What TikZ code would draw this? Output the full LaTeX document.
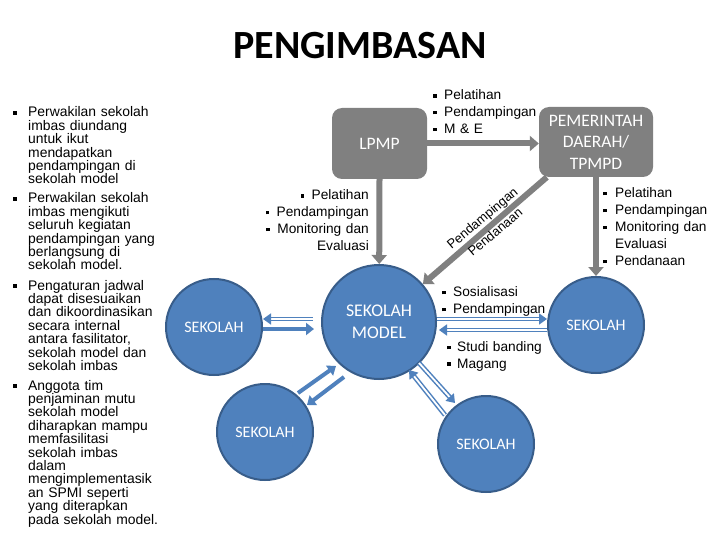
\documentclass[tikz,border=0pt]{standalone}
\usepackage{fontspec}
\setmainfont{Liberation Sans}
\newfontfamily\calfont{Carlito}
\usetikzlibrary{arrows.meta,calc}
\definecolor{gbox}{RGB}{128,128,128}
\definecolor{bfill}{RGB}{79,129,189}
\definecolor{bdraw}{RGB}{56,93,138}
\definecolor{barrowc}{RGB}{79,129,189}
\newcommand{\sqb}{\rule[2.2pt]{3.4pt}{3.4pt}}
\newcommand{\bl}[1]{\makebox[#1][l]{\sqb}}
\newcommand{\ind}{\hspace*{15pt}}
\begin{document}
\begin{tikzpicture}[x=1pt,y=-1pt,
  lbl/.style={font=\fontsize{13.7}{16.7}\selectfont, inner sep=0pt, text width=115pt, align=left, anchor=base west},
  colitem/.style={font=\fontsize{13.9}{13.4}\selectfont, inner sep=0pt, text width=160pt, align=left, anchor=base west},
  gbx/.style={rectangle, rounded corners=10pt, fill=gbox, text=white, align=center, inner sep=0pt, font=\calfont\fontsize{17.5}{21.5}\selectfont},
  sch/.style={circle, fill=bfill, draw=bdraw, line width=2pt, text=white, align=center, inner sep=0pt, minimum size=96pt, font=\calfont\fontsize{16}{20}\selectfont},
  garrow/.style={draw=gbox, line width=6pt, -{Triangle[length=9pt,width=15pt]}},
  bsolid/.style={draw=barrowc, line width=4pt, -{Triangle[length=8pt,width=12pt]}},
  bdouble/.style={draw=barrowc, line width=1.5pt, double=white, double distance=1.8pt, -{Triangle[length=8pt,width=11pt]}}
]
\useasboundingbox (0,0) rectangle (720,540);
\fill[white] (0,0) rectangle (720,540);

% title
\node[font=\calfont\bfseries\fontsize{40}{40}\selectfont, inner sep=0pt] (title) at (360,46) {PENGIMBASAN};

% boxes
\node[gbx, minimum width=95pt, minimum height=71pt] (lp) at (379.5,143.5) {LPMP};
\node[gbx, minimum width=114pt, minimum height=70pt] (pm) at (596,142) {PEMERINTAH\\DAERAH/\\TPMPD};

% circles
\node[sch, minimum size=114pt, font=\calfont\fontsize{17.8}{22}\selectfont] (sm) at (379,322) {SEKOLAH\\MODEL};
\node[sch] (sl) at (214,327) {SEKOLAH};
\node[sch] (sbl) at (265,432) {SEKOLAH};
\node[sch] (sr) at (596,325) {SEKOLAH};
\node[sch] (sbr) at (486,444) {SEKOLAH};

% gray arrows
\draw[garrow] (lp.east) -- (lp.east -| pm.west);
\draw[garrow] (lp.south) -- (sm);
\draw[garrow] (pm.south) -- (sr);
\coordinate (pmc) at ($(pm.south west)+(8,0)$);
\draw[garrow] (pmc) -- (sm);

% blue arrows
\draw[bdouble] ($(sm.west)+(-8,-3)$) -- ($(sl.east)+(0,-8)$);
\draw[bsolid] ($(sl.east)+(0,2)$) -- ($(sm.west)+(-7,7)$);
\draw[bdouble] ($(sm.east)+(0,-3)$) -- ($(sr.west)+(0,-6)$);
\draw[bdouble] ($(sr.west)+(0,5)$) -- ($(sm.east)+(2,8)$);
\draw[bsolid] ($(sbl)+(33,-39)$) -- ($(sm)+(-43,44)$);
\draw[bsolid] ($(sm)+(-35,55)$) -- ($(sbl)+(42,-27)$);
\draw[bdouble] ($(sm)+(40,41)$) -- ($(sbr)+(-31,-41)$);
\draw[bdouble] ($(sbr)+(-41,-29)$) -- ($(sm)+(30,48)$);

% labels
\node[lbl] (ltop) at (433,100) {\bl{11pt}Pelatihan\\\bl{11pt}Pendampingan\\\bl{11pt}M \& E};
\node[lbl, align=right, anchor=base east, text width=120pt] (llp) at (369,200) {\bl{11pt}Pelatihan\\\bl{11pt}Pendampingan\\\bl{11pt}Monitoring dan\\Evaluasi};
\node[lbl, font=\fontsize{13.7}{17}\selectfont] (lpm) at (603,197.5) {\bl{12pt}Pelatihan\\\bl{12pt}Pendampingan\\\bl{12pt}Monitoring dan\\\hspace*{12pt}Evaluasi\\\bl{12pt}Pendanaan};
\node[lbl, font=\fontsize{13.7}{17}\selectfont] (lsos) at (442,296.5) {\bl{11pt}Sosialisasi\\\bl{11pt}Pendampingan};
\node[lbl, font=\fontsize{13.7}{16.5}\selectfont] (lstu) at (447,351.5) {\bl{10pt}Studi banding\\\bl{10pt}Magang};
\node[rotate=40, inner sep=0pt, font=\fontsize{13}{13}\selectfont] (ldiag1) at (483,219) {Pendampingan};
\node[rotate=40, inner sep=0pt, font=\fontsize{13}{13}\selectfont] (ldiag2) at (495,232) {Pendanaan};

% left column
\node[colitem] (c1) at (13,117) {\bl{15pt}Perwakilan sekolah\\\ind imbas diundang\\\ind untuk ikut\\\ind mendapatkan\\\ind pendampingan di\\\ind sekolah model};
\node[colitem] (c2) at (13,203) {\bl{15pt}Perwakilan sekolah\\\ind imbas mengikuti\\\ind seluruh kegiatan\\\ind pendampingan yang\\\ind berlangsung di\\\ind sekolah model.};
\node[colitem] (c3) at (13,290) {\bl{15pt}Pengaturan jadwal\\\ind dapat disesuaikan\\\ind dan dikoordinasikan\\\ind secara internal\\\ind antara fasilitator,\\\ind sekolah model dan\\\ind sekolah imbas};
\node[colitem] (c4) at (13,390) {\bl{15pt}Anggota tim\\\ind penjaminan mutu\\\ind sekolah model\\\ind diharapkan mampu\\\ind memfasilitasi\\\ind sekolah imbas\\\ind dalam\\\ind mengimplementasik\\\ind an SPMI seperti\\\ind yang diterapkan\\\ind pada sekolah model.};
\end{tikzpicture}
\end{document}
